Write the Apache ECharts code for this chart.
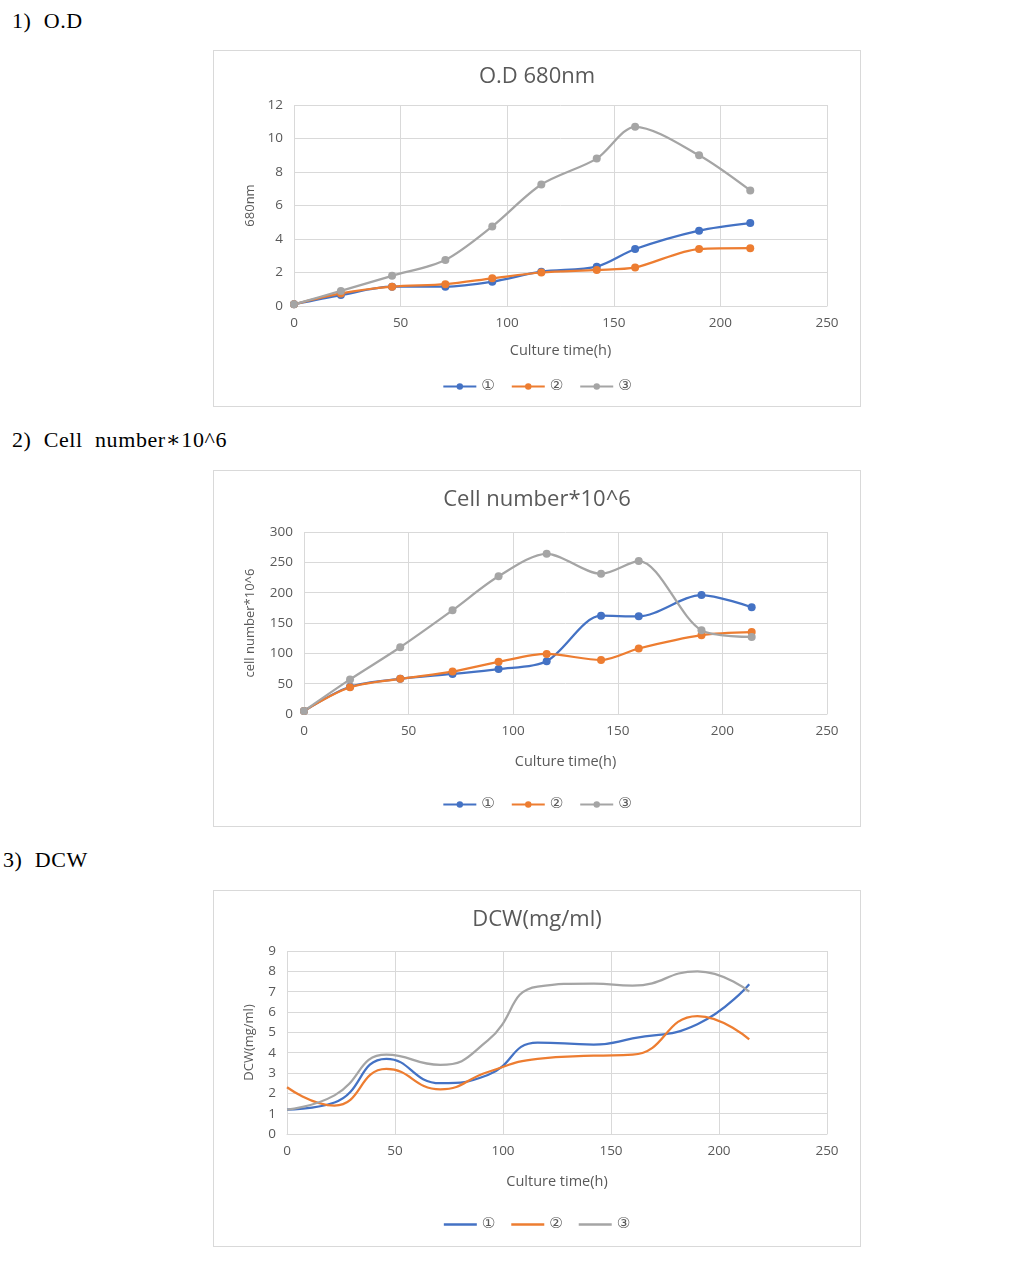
<!DOCTYPE html>
<html><head><meta charset="utf-8">
<script src="https://cdn.jsdelivr.net/npm/echarts@6/dist/echarts.min.js"></script>
<style>
html,body{margin:0;padding:0;background:#fff;width:1024px;height:1264px;overflow:hidden;position:relative;}
.hd{position:absolute;font-family:"Liberation Serif","DejaVu Serif",serif;font-size:22px;color:#000;white-space:pre;letter-spacing:0.6px;}
.box{position:absolute;left:213px;width:646px;height:355px;border:1px solid #d9d9d9;}
</style></head><body>
<div class="hd" style="left:12px;top:8px;">1)  O.D</div>
<div class="hd" style="left:12px;top:427px;">2)  Cell  number∗10^6</div>
<div class="hd" style="left:3px;top:847px;">3)  DCW</div>
<div class="box" id="c1" style="top:50px;"></div>
<div class="box" id="c2" style="top:470px;"></div>
<div class="box" id="c3" style="top:890px;"></div>
<script>
const seriesNames = ['①', '②', '③'];
const colors = ['#4472C4', '#ED7D31', '#A5A5A5'];
const timeH = [0, 22, 46, 71, 93, 116, 142, 160, 190, 214];

const od1 = [0.1, 0.65, 1.15, 1.15, 1.45, 2.05, 2.35, 3.4, 4.5, 4.95];
const od2 = [0.1, 0.75, 1.15, 1.3, 1.65, 2.0, 2.15, 2.3, 3.4, 3.45];
const od3 = [0.1, 0.9, 1.8, 2.75, 4.75, 7.25, 8.8, 10.7, 9.0, 6.9];

const cell1 = [5, 45, 58, 66, 74, 87, 162, 161, 196, 176];
const cell2 = [5, 44, 58, 70, 86, 99, 89, 108, 130, 135];
const cell3 = [5, 57, 110, 171, 227, 264, 231, 252, 138, 127];

const dcw1 = [1.2, 1.55, 3.7, 2.5, 2.9, 4.5, 4.4, 4.7, 5.4, 7.37];
const dcw2 = [2.3, 1.4, 3.2, 2.2, 3.05, 3.7, 3.85, 3.9, 5.8, 4.65];
const dcw3 = [1.2, 1.9, 3.9, 3.4, 4.6, 7.25, 7.4, 7.3, 8.0, 7.0];

const txt = '#595959';
const grid = '#d9d9d9';
const font = '"Open Sans","Noto Sans",sans-serif';

function makeChart(id, cfg) {
  const ch = echarts.init(document.getElementById(id), null, {renderer: 'canvas'});
  const sets = cfg.sets;
  const legend = {bottom: cfg.legendBottom, left: 'center', itemWidth: 33, itemHeight: 8, itemGap: 16,
      textStyle: {fontFamily: '"DejaVu Sans","Noto Sans",sans-serif', fontSize: 15, color: txt}, data: seriesNames};
  if (!cfg.markers) { legend.icon = 'rect'; legend.itemHeight = 2.5; }
  ch.setOption({
    animation: false,
    textStyle: {fontFamily: font},
    title: {text: cfg.title, left: 'center', top: cfg.titleTop,
      textStyle: {fontFamily: font, fontSize: 22, fontWeight: 'normal', color: txt}},
    grid: cfg.grid,
    legend: legend,
    xAxis: {type: 'value', min: 0, max: 250, interval: 50,
      name: 'Culture time(h)', nameLocation: 'middle', nameGap: cfg.xNameGap,
      nameTextStyle: {fontFamily: font, fontSize: 14.5, color: txt},
      axisLine: {show: true, lineStyle: {color: grid, width: 1}},
      axisTick: {show: false},
      axisLabel: {color: txt, fontSize: 13.5, margin: 10, fontFamily: font},
      splitLine: {show: true, lineStyle: {color: grid, width: 1}}},
    yAxis: {type: 'value', min: 0, max: cfg.yMax, interval: cfg.yInt,
      name: cfg.yName, nameLocation: 'middle', nameGap: cfg.yNameGap,
      nameTextStyle: {fontFamily: font, fontSize: 13, color: txt},
      axisLine: {show: false}, axisTick: {show: false},
      axisLabel: {color: txt, fontSize: 13.5, margin: 11, fontFamily: font},
      splitLine: {show: true, lineStyle: {color: grid, width: 1}}},
    series: sets.map((vals, k) => ({
      name: seriesNames[k], type: 'line', smooth: cfg.smooth,
      data: timeH.map((t, i) => [t, vals[i]]),
      symbol: cfg.markers ? 'circle' : 'none', symbolSize: 8,
      showSymbol: cfg.markers,
      itemStyle: {color: colors[k]},
      lineStyle: {color: colors[k], width: 2.25}
    }))
  });
}

makeChart('c1', {title: 'O.D 680nm', titleTop: 10, grid: {left: 80, right: 33, top: 54, bottom: 100},
  xNameGap: 37, yName: '680nm', yNameGap: 37, yMax: 12, yInt: 2, smooth: 0.3, markers: true,
  legendBottom: 7, sets: [od1, od2, od3]});
makeChart('c2', {title: 'Cell number*10^6', titleTop: 13, grid: {left: 90, right: 33, top: 61, bottom: 112},
  xNameGap: 40, yName: 'cell number*10^6', yNameGap: 47, yMax: 300, yInt: 50, smooth: 0.3, markers: true,
  legendBottom: 9, sets: [cell1, cell2, cell3]});
makeChart('c3', {title: 'DCW(mg/ml)', titleTop: 13, grid: {left: 73, right: 33, top: 60, bottom: 112},
  xNameGap: 40, yName: 'DCW(mg/ml)', yNameGap: 31, yMax: 9, yInt: 1, smooth: 0.5, markers: false,
  legendBottom: 9, sets: [dcw1, dcw2, dcw3]});
</script>
</body></html>
